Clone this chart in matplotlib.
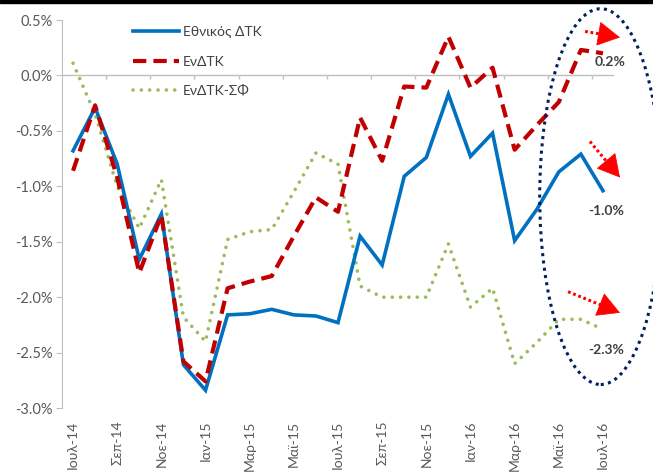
import numpy as np
import matplotlib
matplotlib.use('Agg')
import matplotlib.pyplot as plt
from matplotlib.patches import Ellipse, Rectangle
from matplotlib.ticker import FuncFormatter

plt.rcParams['font.family'] = ['Lato', 'Noto Sans', 'DejaVu Sans']

# Monthly series, % change
months = ['Ιουλ-14', 'Αυγ-14', 'Σεπ-14', 'Οκτ-14', 'Νοε-14', 'Δεκ-14',
          'Ιαν-15', 'Φεβ-15', 'Μαρ-15', 'Απρ-15', 'Μαϊ-15', 'Ιουν-15',
          'Ιουλ-15', 'Αυγ-15', 'Σεπ-15', 'Οκτ-15', 'Νοε-15', 'Δεκ-15',
          'Ιαν-16', 'Φεβ-16', 'Μαρ-16', 'Απρ-16', 'Μαϊ-16', 'Ιουν-16', 'Ιουλ-16']
national_cpi = [-0.68, -0.29, -0.80, -1.66, -1.25, -2.61, -2.84, -2.16, -2.15, -2.11,
                -2.16, -2.17, -2.23, -1.45, -1.71, -0.91, -0.74, -0.17, -0.73, -0.52,
                -1.49, -1.21, -0.87, -0.71, -1.04]
hicp = [-0.86, -0.27, -0.92, -1.78, -1.26, -2.58, -2.76, -1.92, -1.86, -1.81,
        -1.45, -1.10, -1.23, -0.38, -0.77, -0.10, -0.11, 0.35, -0.11, 0.07,
        -0.67, -0.45, -0.24, 0.23, 0.20]
hicp_ct = [0.11, -0.35, -1.00, -1.38, -0.94, -2.18, -2.40, -1.48, -1.41, -1.39,
           -1.05, -0.70, -0.80, -1.90, -2.00, -2.00, -2.00, -1.52, -2.09, -1.92,
           -2.60, -2.41, -2.20, -2.20, -2.29]
series_names = ['Εθνικός ΔΤΚ', 'ΕνΔΤΚ', 'ΕνΔΤΚ-ΣΦ']

x = np.arange(len(months))

fig = plt.figure(figsize=(6.53, 4.73), dpi=100)
ax = fig.add_axes([62 / 653, 65 / 473, 552 / 653, 388 / 473])

ax.plot(x, national_cpi, color='#0070C0', lw=2.6, solid_joinstyle='miter',
        label=series_names[0], zorder=3)
ax.plot(x, hicp, color='#C00000', lw=3.0, linestyle=(0, (3.2, 1.7)),
        label=series_names[1], zorder=4)
ax.plot(x, hicp_ct, color='#9BBB59', lw=2.6, linestyle=(0, (0.01, 2.3)),
        dash_capstyle='round', label=series_names[2], zorder=2)

ax.set_xlim(-0.5, len(months) - 0.5)
ax.set_ylim(-3.0, 0.5)
ax.set_yticks(np.arange(-3.0, 0.51, 0.5))
ax.yaxis.set_major_formatter(FuncFormatter(lambda v, p: f'{v:.1f}%'))
ax.tick_params(axis='y', length=4, color='#BFBFBF', labelsize=10.5,
               labelcolor='#595959', pad=3)

ax.set_xticks(x[::2])
ax.set_xticklabels(months[::2], rotation=90, va='top')
ax.tick_params(axis='x', length=0, labelsize=10, labelcolor='#595959', pad=9)

for s in ['top', 'right', 'bottom']:
    ax.spines[s].set_visible(False)
ax.spines['left'].set_color('#BFBFBF')

# zero line acts as the category axis
ax.axhline(0, color='#BFBFBF', lw=1, zorder=1)
ax.vlines(np.arange(1.5, len(months) - 1, 2), -0.036, 0, color='#BFBFBF', lw=1, zorder=1)

leg = ax.legend(loc='upper left', bbox_to_anchor=(0.1286, 0.9845), frameon=False,
                fontsize=10, handlelength=3.3, handletextpad=0.3, labelspacing=1.25,
                borderpad=0, borderaxespad=0)
for t in leg.get_texts():
    t.set_color('#404040')

# highlight of the latest readings
ax.add_patch(Ellipse((23.9, -1.093), 5.53, 3.39, fill=False, edgecolor='#002060',
                     lw=2.2, linestyle=(0, (1, 1.4)), clip_on=False, zorder=5))

arrows = [((23.19, 0.397), (24.77, 0.343)),
          ((23.41, -0.596), (24.77, -0.921)),
          ((22.42, -1.951), (24.77, -2.141))]
for (x0, y0), (x1, y1) in arrows:
    # dotted shaft stops short of the tip, solid triangle finishes it
    xm, ym = x0 + 0.72 * (x1 - x0), y0 + 0.72 * (y1 - y0)
    ax.plot([x0, xm], [y0, ym], color='#FF0000', lw=2.2, linestyle=(0, (0.9, 0.9)),
            clip_on=False, zorder=6)
    ax.annotate('', xy=(x1, y1), xytext=(xm, ym), annotation_clip=False, zorder=6,
                arrowprops=dict(arrowstyle='-|>,head_length=1.0,head_width=0.55',
                                color='#FF0000', lw=0.5, mutation_scale=15,
                                shrinkA=0, shrinkB=0))

label_pos = [(24.32, 0.117), (24.14, -1.22), (24.14, -2.48)]
for series, (lx, ly) in zip([hicp, national_cpi, hicp_ct], label_pos):
    ax.text(lx, ly, f'{series[-1]:.1f}%', ha='center', va='center', fontsize=10,
            fontweight='bold', color='#404040', zorder=6)

fig.patches.append(Rectangle((0, 1 - 3 / 473), 1, 3 / 473, transform=fig.transFigure,
                             color='black', zorder=10))

fig.savefig('out.png', dpi=100)
